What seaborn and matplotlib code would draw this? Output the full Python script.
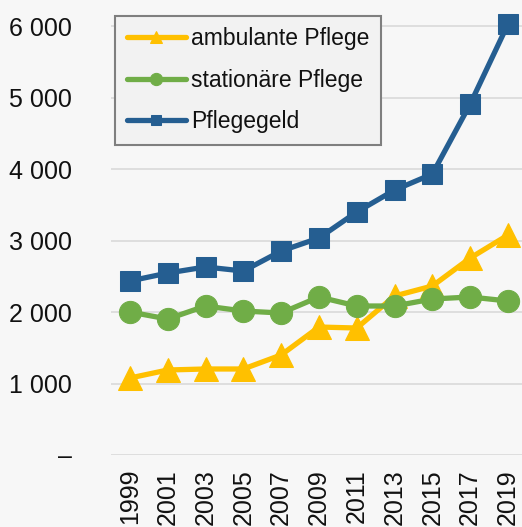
import matplotlib
matplotlib.use("Agg")
import matplotlib.pyplot as plt
import seaborn as sns
import numpy as np
import pandas as pd

years = ["1999", "2001", "2003", "2005", "2007", "2009", "2011", "2013", "2015", "2017", "2019"]
ambulant = [1077, 1189, 1203, 1203, 1399, 1790, 1776, 2224, 2364, 2755, 3077]
stationaer = [2000, 1902, 2084, 2014, 1986, 2210, 2084, 2084, 2182, 2210, 2154]
pflegegeld = [2434, 2545, 2630, 2573, 2853, 3035, 3399, 3706, 3930, 4909, 6028]
series_names = ["ambulante Pflege", "stationäre Pflege", "Pflegegeld"]
ytick_vals = [0, 1000, 2000, 3000, 4000, 5000, 6000]
ytick_labels = ["–", "1 000", "2 000", "3 000", "4 000", "5 000", "6 000"]

sns.set_theme(style="white")
plt.rcParams['font.family'] = ['Liberation Sans', 'DejaVu Sans']

bg = "#F7F7F7"
fig = plt.figure(figsize=(5.22, 5.27), dpi=100, facecolor=bg)
ax = fig.add_axes([111/522, 72/527, 411/522, 455/527])
ax.set_facecolor(bg)

x = np.arange(len(years))
df = pd.DataFrame({"x": x, "ambulant": ambulant, "stationaer": stationaer, "pflegegeld": pflegegeld})

styles = [
    ("ambulant", series_names[0], "#FFC000", "^", 17),
    ("stationaer", series_names[1], "#70AD47", "o", 16),
    ("pflegegeld", series_names[2], "#255E91", "s", 14),
]
for col, name, color, mk, ms in styles:
    sns.lineplot(data=df, x="x", y=col, ax=ax, color=color, marker=mk, markersize=ms,
                 markeredgecolor=color, linewidth=3.8, label=name, clip_on=False, zorder=3)

ax.set_xlim(-0.5, 10.37)
ax.set_ylim(0, 6364)
ax.set_yticks(ytick_vals)
ax.set_yticklabels(ytick_labels, fontsize=18, color="#111111")
ax.set_xticks(x)
ax.set_xticklabels(years, rotation=90, fontsize=18, color="#111111", va="top")
ax.tick_params(axis="y", length=0, pad=28)
ax.tick_params(axis="x", length=0, pad=10)
ax.set_xlabel("")
ax.set_ylabel("")
ax.grid(axis="y", color="#D9D9D9", linewidth=1.2)
ax.set_axisbelow(True)
for s in ax.spines.values():
    s.set_visible(False)

leg = ax.legend(loc="upper left", bbox_to_anchor=(0.01, 0.965), borderaxespad=0,
                fontsize=16.5, handlelength=2.6, handletextpad=0.2, labelspacing=0.8,
                markerscale=0.55, frameon=True, fancybox=False, borderpad=0.5)
frame = leg.get_frame()
frame.set_facecolor("#F2F2F2")
frame.set_edgecolor("#7F7F7F")
frame.set_linewidth(1.5)
frame.set_alpha(1)
for t in leg.get_texts():
    t.set_color("#111111")

fig.savefig("out.png", dpi=100, facecolor=bg)
